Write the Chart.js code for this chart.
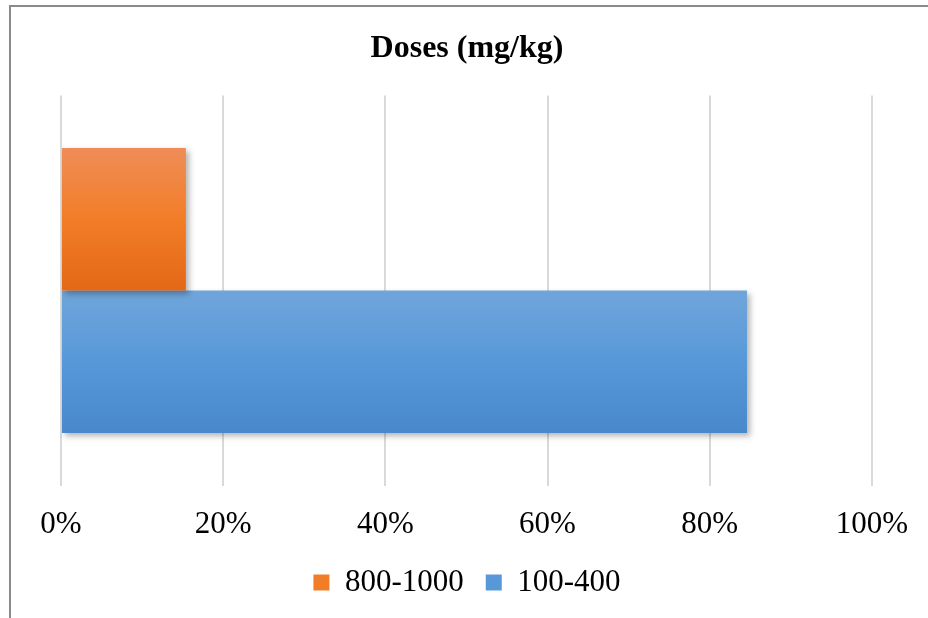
<!DOCTYPE html>
<html>
<head>
<meta charset="utf-8">
<script src="https://cdn.jsdelivr.net/npm/chart.js@4/dist/chart.umd.min.js"></script>
<style>
  html, body { margin: 0; padding: 0; background: #ffffff; }
  #wrap { position: relative; width: 928px; height: 618px; overflow: hidden; }
  #frame {
    position: absolute; left: 9px; top: 5px; width: 1000px; height: 700px;
    border-top: 2px solid #8a8a8a; border-left: 2px solid #8a8a8a;
    pointer-events: none;
  }
  canvas { position: absolute; left: 0; top: 0; }
</style>
</head>
<body>
<div id="wrap">
  <canvas id="chart" width="928" height="618"></canvas>
  <div id="frame"></div>
</div>
<script>
// Dose groups and their share of cases (%)
const chartTitle = 'Doses (mg/kg)';
const categories = [''];
const seriesNames = ['800-1000', '100-400'];
const dose800to1000 = [15.4];
const dose100to400 = [84.6];
const tickValues = [0, 20, 40, 60, 80, 100];

// Vertical shading stops for each series (top, middle, bottom)
const orangeStops = ['#ef8d58', '#f27d27', '#e36817'];
const blueStops = ['#70a5db', '#5798d9', '#4888cb'];

const CATEGORY_PCT = 0.73;

function barGradient(ctx, stops) {
  const chart = ctx.chart;
  const yScale = chart.scales.y;
  if (!chart.chartArea || !yScale) return stops[1];
  const n = chart.data.datasets.length;
  const center = yScale.getPixelForValue(ctx.dataIndex);
  const full = (yScale.height / Math.max(yScale.ticks.length, 1)) * CATEGORY_PCT;
  const size = full / n;
  const top = center - full / 2 + ctx.datasetIndex * size;
  const g = chart.ctx.createLinearGradient(0, top, 0, top + size);
  g.addColorStop(0, stops[0]);
  g.addColorStop(0.5, stops[1]);
  g.addColorStop(1, stops[2]);
  return g;
}

// Soft drop shadow behind the bars
const barShadow = {
  id: 'barShadow',
  beforeDatasetsDraw(chart) {
    const c = chart.ctx;
    c.save();
    c.shadowColor = 'rgba(0,0,0,0.30)';
    c.shadowBlur = 6;
    c.shadowOffsetX = 3;
    c.shadowOffsetY = 3;
  },
  afterDatasetsDraw(chart) {
    chart.ctx.restore();
  }
};

Chart.defaults.font.family = '"Liberation Serif", "Times New Roman", serif';
Chart.defaults.color = '#000000';

new Chart(document.getElementById('chart'), {
  type: 'bar',
  data: {
    labels: categories,
    datasets: [
      {
        label: seriesNames[0],
        data: dose800to1000,
        backgroundColor: (c) => barGradient(c, orangeStops),
        borderWidth: 0,
        categoryPercentage: CATEGORY_PCT,
        barPercentage: 1.0
      },
      {
        label: seriesNames[1],
        data: dose100to400,
        backgroundColor: (c) => barGradient(c, blueStops),
        borderWidth: 0,
        categoryPercentage: CATEGORY_PCT,
        barPercentage: 1.0
      }
    ]
  },
  options: {
    indexAxis: 'y',
    responsive: false,
    animation: false,
    layout: { padding: { left: 61, right: 55, top: 10, bottom: 10 } },
    scales: {
      x: {
        min: 0,
        max: 100,
        afterBuildTicks(scale) {
          scale.ticks = tickValues.map(v => ({ value: v }));
        },
        afterFit(scale) {
          // tighten the gap between the tick labels and the legend
          scale.height -= 18;
        },
        ticks: {
          font: { size: 31 },
          color: '#000000',
          padding: 20,
          maxRotation: 0,
          callback: (v) => v + '%'
        },
        grid: { color: '#d9d9d9', lineWidth: 2, drawTicks: false },
        border: { display: false }
      },
      y: {
        display: false,
        grid: { display: false }
      }
    },
    plugins: {
      title: {
        display: true,
        text: chartTitle,
        color: '#000000',
        font: { size: 32, weight: 'bold' },
        padding: { top: 20, bottom: 27 }
      },
      legend: {
        position: 'bottom',
        labels: {
          font: { size: 31 },
          color: '#000000',
          boxWidth: 16,
          boxHeight: 16,
          padding: 22,
          generateLabels(chart) {
            return chart.data.datasets.map((ds, i) => ({
              text: ds.label,
              fillStyle: i === 0 ? orangeStops[1] : blueStops[1],
              strokeStyle: 'rgba(0,0,0,0)',
              lineWidth: 0,
              hidden: false,
              datasetIndex: i
            }));
          }
        }
      },
      tooltip: { enabled: false }
    }
  },
  plugins: [barShadow]
});
</script>
</body>
</html>
